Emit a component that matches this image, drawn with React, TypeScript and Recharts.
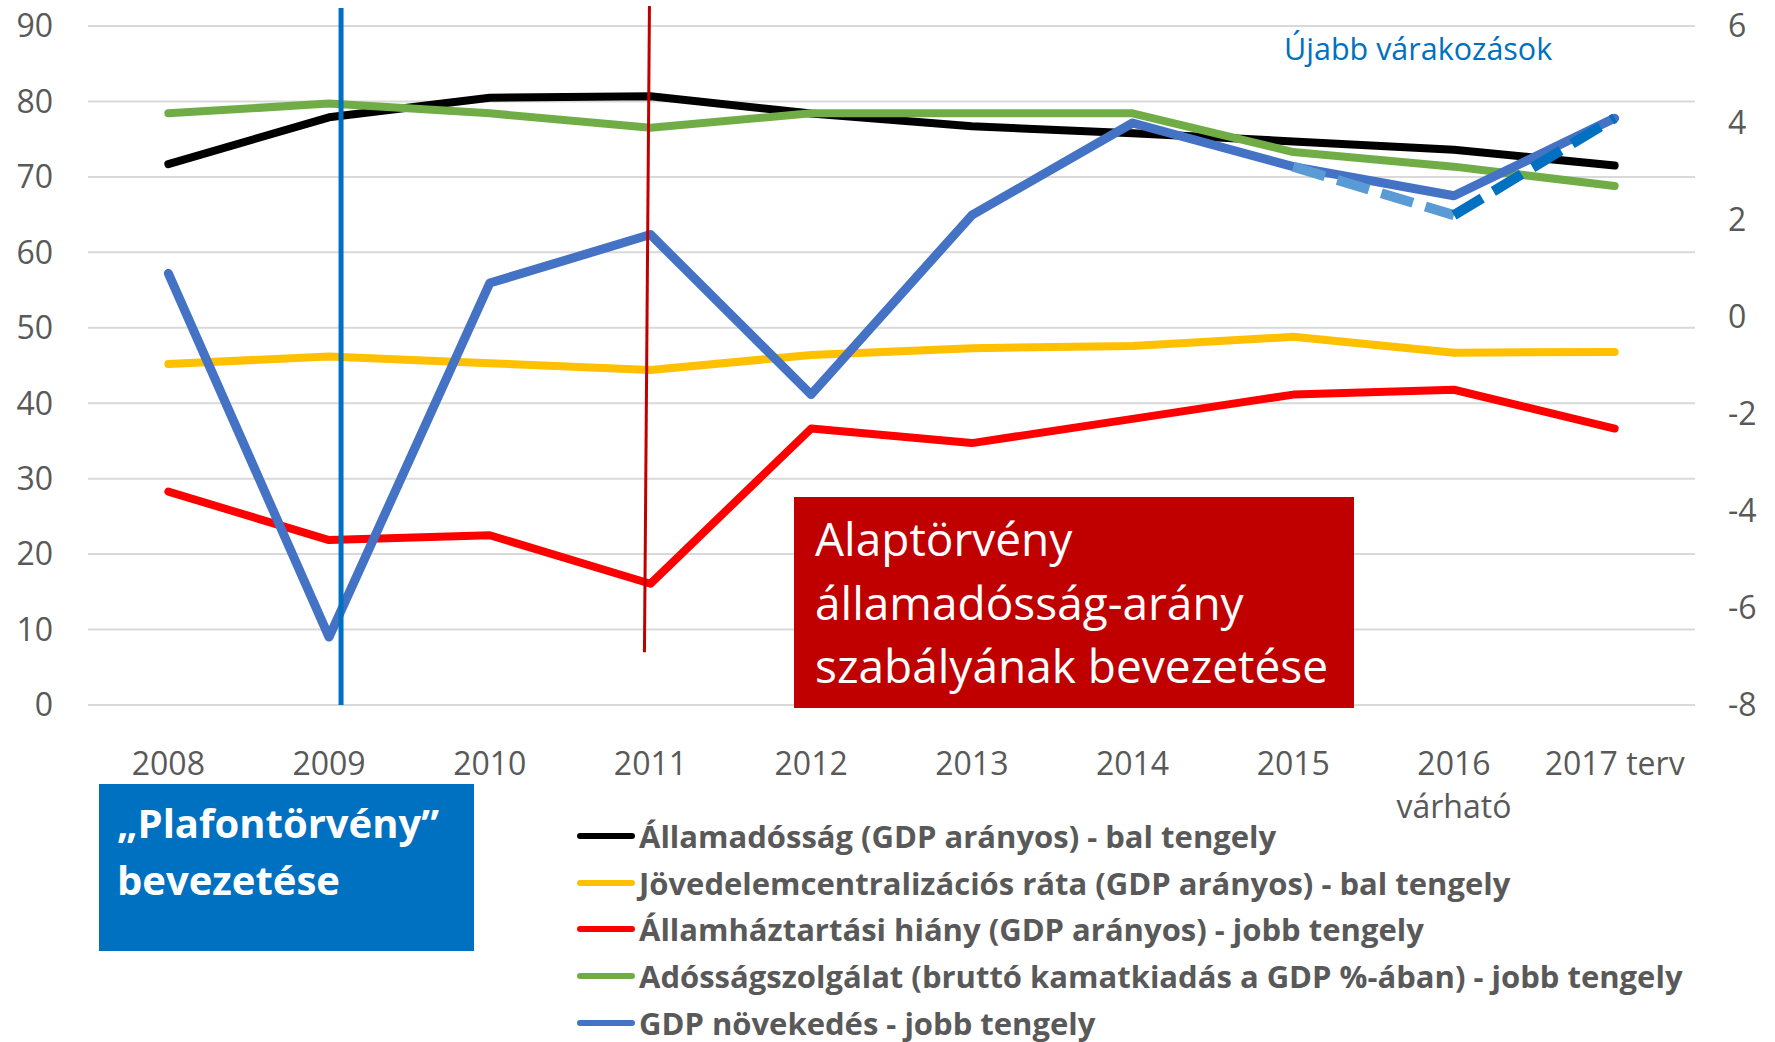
import { CartesianGrid, Legend, Line, LineChart, ReferenceLine, XAxis, YAxis } from 'recharts'

document.body.style.margin = '0'

const YEARS = ['2008', '2009', '2010', '2011', '2012', '2013', '2014', '2015', '2016', '2017 terv']
const YEAR_NOTES = ['', '', '', '', '', '', '', '', 'várható', '']

// bal tengely
const DEBT = [71.7, 77.9, 80.5, 80.7, 78.4, 76.7, 75.8, 74.7, 73.6, 71.5]
const CENTRALIZATION = [45.2, 46.2, 45.3, 44.4, 46.4, 47.3, 47.6, 48.8, 46.7, 46.8]
// jobb tengely
const DEFICIT = [-3.6, -4.6, -4.5, -5.5, -2.3, -2.6, -2.1, -1.6, -1.5, -2.3]
const INTEREST = [4.2, 4.4, 4.2, 3.9, 4.2, 4.2, 4.2, 3.4, 3.1, 2.7]
const GDP = [0.9, -6.6, 0.7, 1.7, -1.6, 2.1, 4.0, 3.1, 2.5, 4.1]
const GDP_NEW_2016 = [null, null, null, null, null, null, null, 3.1, 2.1, null]
const GDP_NEW_2017 = [null, null, null, null, null, null, null, null, 2.1, 4.1]

const LEFT_TICKS = [0, 10, 20, 30, 40, 50, 60, 70, 80, 90]
const RIGHT_TICKS = [-8, -6, -4, -2, 0, 2, 4, 6]

const LEGEND_ORDER = ['debt', 'centralization', 'deficit', 'interest', 'gdp']

const data = YEARS.map((year, i) => ({
  year,
  debt: DEBT[i],
  centralization: CENTRALIZATION[i],
  deficit: DEFICIT[i],
  interest: INTEREST[i],
  gdp: GDP[i],
  gdpNew16: GDP_NEW_2016[i],
  gdpNew17: GDP_NEW_2017[i]
}))

const AXIS_GRAY = '#595959'

function YearTick({ x, y, payload }: any) {
  const note = YEAR_NOTES[YEARS.indexOf(payload.value)]
  return (
    <text x={x} y={y} textAnchor="middle" fill={AXIS_GRAY} fontSize={32}>
      <tspan x={x}>{payload.value}</tspan>
      {note && (
        <tspan x={x} dy={43}>
          {note}
        </tspan>
      )}
    </text>
  )
}

function LegendRows({ payload }: any) {
  const items = (payload || [])
    .filter((p: any) => p.type !== 'none' && LEGEND_ORDER.includes(p.dataKey))
    .sort((a: any, b: any) => LEGEND_ORDER.indexOf(a.dataKey) - LEGEND_ORDER.indexOf(b.dataKey))
  return (
    <div>
      {items.map((p: any) => (
        <div key={p.value} style={{ display: 'flex', alignItems: 'center', height: 46.6 }}>
          <span
            style={{ display: 'inline-block', width: 58, height: 6, borderRadius: 3, background: p.color, marginRight: 4 }}
          />
          <span style={{ fontWeight: 700, fontSize: 31, color: AXIS_GRAY, whiteSpace: 'nowrap' }}>{p.value}</span>
        </div>
      ))}
    </div>
  )
}

const blueRule = (p: any) => {
  const top = Math.min(p.y1, p.y2)
  const bottom = Math.max(p.y1, p.y2)
  return <line x1={p.x1 + 12} x2={p.x1 + 12} y1={top - 18} y2={bottom} stroke="#0070C0" strokeWidth={5} />
}

const redRule = (p: any) => {
  const topFirst = p.y1 < p.y2
  const tx = topFirst ? p.x1 : p.x2
  const ty = topFirst ? p.y1 : p.y2
  const bx = topFirst ? p.x2 : p.x1
  const by = topFirst ? p.y2 : p.y1
  return <line x1={tx - 1} y1={ty} x2={bx - 6} y2={by} stroke="#C00000" strokeWidth={3} />
}

export default function App() {
  return (
    <div style={{ position: 'relative', width: 1775, height: 1042, background: '#fff', fontFamily: "'Open Sans', sans-serif" }}>
      <LineChart width={1775} height={1042} data={data} margin={{ top: 26, right: 20, bottom: 277, left: 28 }}>
        <CartesianGrid yAxisId="left" vertical={false} stroke="#D9D9D9" strokeWidth={2} />
        <XAxis
          dataKey="year"
          scale="band"
          interval={0}
          axisLine={false}
          tickLine={false}
          tickSize={0}
          tickMargin={70}
          height={60}
          tick={<YearTick />}
        />
        <YAxis
          yAxisId="left"
          orientation="left"
          domain={[0, 90]}
          ticks={LEFT_TICKS}
          interval={0}
          axisLine={false}
          tickLine={false}
          tickSize={0}
          tickMargin={35}
          width={60}
          tick={{ fill: AXIS_GRAY, fontSize: 32 }}
        />
        <YAxis
          yAxisId="right"
          orientation="right"
          domain={[-8, 6]}
          ticks={RIGHT_TICKS}
          interval={0}
          axisLine={false}
          tickLine={false}
          tickSize={0}
          tickMargin={33}
          width={60}
          tick={{ fill: AXIS_GRAY, fontSize: 32 }}
        />
        <Legend
          layout="vertical"
          align="center"
          verticalAlign="middle"
          itemSorter={null as any}
          wrapperStyle={{ left: 577, top: 813, width: 1190 }}
          content={<LegendRows />}
        />
        <Line yAxisId="left" dataKey="debt" name="Államadósság (GDP arányos) - bal tengely" stroke="#000000"
          strokeWidth={8} strokeLinecap="round" strokeLinejoin="round" dot={false} activeDot={false} isAnimationActive={false} />
        <Line yAxisId="left" dataKey="centralization" name="Jövedelemcentralizációs ráta (GDP arányos) - bal tengely" stroke="#FFC000"
          strokeWidth={8} strokeLinecap="round" strokeLinejoin="round" dot={false} activeDot={false} isAnimationActive={false} />
        <Line yAxisId="right" dataKey="deficit" name="Államháztartási hiány (GDP arányos) - jobb tengely" stroke="#FF0000"
          strokeWidth={8} strokeLinecap="round" strokeLinejoin="round" dot={false} activeDot={false} isAnimationActive={false} />
        <Line yAxisId="right" dataKey="interest" name="Adósságszolgálat (bruttó kamatkiadás a GDP %-ában) - jobb tengely" stroke="#70AD47"
          strokeWidth={8} strokeLinecap="round" strokeLinejoin="round" dot={false} activeDot={false} isAnimationActive={false} />
        <Line yAxisId="right" dataKey="gdp" name="GDP növekedés - jobb tengely" stroke="#4472C4"
          strokeWidth={9} strokeLinecap="round" strokeLinejoin="round" dot={false} activeDot={false} isAnimationActive={false} />
        <Line yAxisId="right" dataKey="gdpNew16" legendType="none" stroke="#5B9BD5" strokeWidth={10} strokeDasharray="33 13"
          dot={false} activeDot={false} isAnimationActive={false} />
        <Line yAxisId="right" dataKey="gdpNew17" legendType="none" stroke="#0070C0" strokeWidth={10} strokeDasharray="33 13"
          dot={false} activeDot={false} isAnimationActive={false} />
        <ReferenceLine yAxisId="left" x="2009" shape={blueRule} />
        <ReferenceLine
          yAxisId="left"
          segment={[{ x: '2011', y: 92.65 }, { x: '2011', y: 7 }]}
          ifOverflow="visible"
          shape={redRule}
        />
      </LineChart>
      <svg width={1775} height={1042} style={{ position: 'absolute', left: 0, top: 0, pointerEvents: 'none' }}>
        <text x={1284} y={60} fontSize={30.5} fill="#0070C0">Újabb várakozások</text>
        <rect x={794} y={497} width={560} height={211} fill="#C00000" />
        <text fill="#fff" fontSize={46}>
          <tspan x={815} y={556}>Alaptörvény</tspan>
          <tspan x={815} y={620}>államadósság-arány</tspan>
          <tspan x={815} y={683}>szabályának bevezetése</tspan>
        </text>
        <rect x={99} y={784} width={375} height={167} fill="#0070C0" />
        <text fill="#fff" fontSize={40} fontWeight={700}>
          <tspan x={117} y={838}>„Plafontörvény”</tspan>
          <tspan x={117} y={895}>bevezetése</tspan>
        </text>
      </svg>
    </div>
  )
}
